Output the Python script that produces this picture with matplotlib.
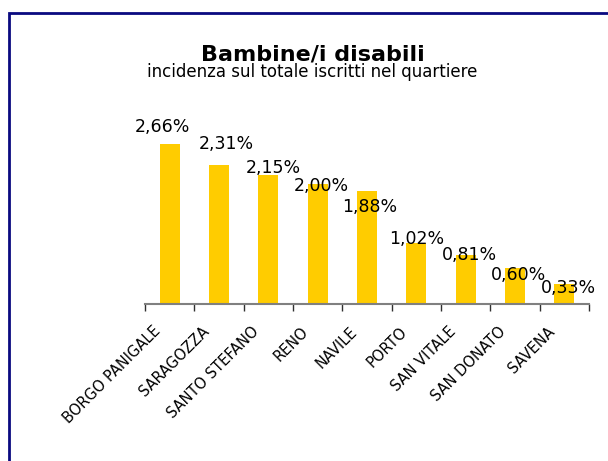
import matplotlib
matplotlib.use("Agg")
import matplotlib.pyplot as plt
import matplotlib.transforms as mtransforms
from matplotlib.patches import Rectangle

# data
QUARTIERI = ["BORGO PANIGALE", "SARAGOZZA", "SANTO STEFANO", "RENO", "NAVILE",
             "PORTO", "SAN VITALE", "SAN DONATO", "SAVENA"]
INCIDENZA = [2.66, 2.31, 2.15, 2.00, 1.88, 1.02, 0.81, 0.60, 0.33]

# label offsets (pixels) as placed in the original export
LABEL_DX = [-7, 7, 5, 4, 3, 0, 4, 4, 4]
LABEL_DY = [17, 21, 7, -2, -16, 4, 0, -7, -4]

W, H, DPI = 608, 461, 100
fig = plt.figure(figsize=(W / DPI, H / DPI), dpi=DPI)

# navy frame (left and top edge visible)
frame = Rectangle((8.5 / W, -0.1), 1.2, 1.1 - 13.5 / H, transform=fig.transFigure,
                  fill=False, edgecolor="#0a0a80", linewidth=2.0)
fig.patches.append(frame)

ax = fig.add_axes([145 / W, 1 - 304 / H, 444 / W, 180.6 / H])
x = range(len(QUARTIERI))
ax.bar(x, INCIDENZA, width=0.4, color="#FFCC00", zorder=2)
ax.set_xlim(-0.5, len(QUARTIERI) - 0.5)
ax.set_ylim(0, 3.0)

for sp in ["top", "right", "left"]:
    ax.spines[sp].set_visible(False)
ax.spines["bottom"].set_color("#808080")
ax.spines["bottom"].set_linewidth(1.5)
ax.set_yticks([])

# tick marks between categories, labels under bars
ax.set_xticks([i - 0.5 for i in range(len(QUARTIERI) + 1)], minor=True)
ax.tick_params(axis="x", which="minor", length=5, width=1, color="#303030")
ax.set_xticks(list(x))
ax.set_xticklabels(QUARTIERI, fontsize=10.5)
ax.tick_params(axis="x", which="major", length=0, pad=18)
shift = mtransforms.ScaledTranslation(-12 / DPI, 0, fig.dpi_scale_trans)
for lab in ax.get_xticklabels():
    lab.set_rotation(45)
    lab.set_ha("right")
    lab.set_va("center")
    lab.set_rotation_mode("anchor")
    lab.set_transform(lab.get_transform() + shift)

for i, v in enumerate(INCIDENZA):
    txt = f"{v:.2f}%".replace(".", ",")
    ax.annotate(txt, (i, v), xytext=(LABEL_DX[i] * 72 / DPI, LABEL_DY[i] * 72 / DPI),
                textcoords="offset points", ha="center", va="center",
                fontsize=12.5, color="black", annotation_clip=False)

fig.text(313 / W, 1 - 61 / H, "Bambine/i disabili", ha="center", va="baseline",
         fontsize=16, fontweight="bold")
fig.text(312 / W, 1 - 77 / H, "incidenza sul totale iscritti nel quartiere",
         ha="center", va="baseline", fontsize=12)

fig.savefig("out.png", dpi=DPI)
